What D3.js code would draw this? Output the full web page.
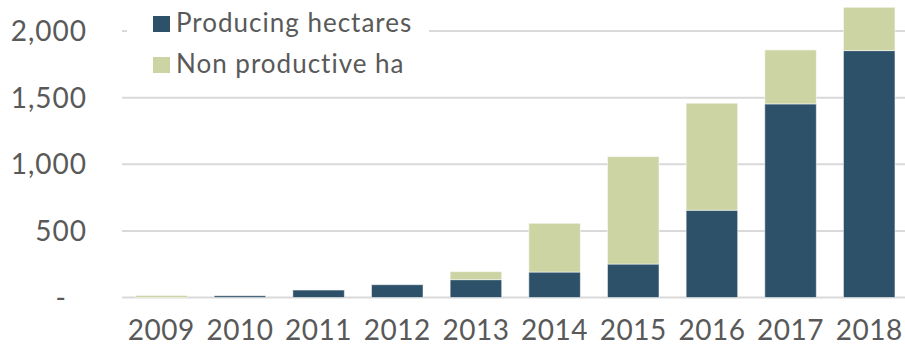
<!DOCTYPE html>
<html>
<head>
<meta charset="utf-8">
<script src="https://cdn.jsdelivr.net/npm/d3@7"></script>
<style>
  body { margin: 0; background: #fff; }
  svg { display: block; font-family: "Lato", "DejaVu Sans", sans-serif; }
</style>
</head>
<body>
<svg id="chart" width="905" height="347"></svg>
<script>
// chart values
const years = ["2009", "2010", "2011", "2012", "2013", "2014", "2015", "2016", "2017", "2018"];
const producing = [0, 13, 56, 96, 134, 191, 251, 655, 1453, 1853];
const nonProductive = [15, 0, 0, 0, 60, 366, 806, 803, 405, 325];
const yTicks = [0, 500, 1000, 1500, 2000];
const seriesNames = ["Producing hectares", "Non productive ha"];

const colors = ["#2d5169", "#cdd4a4"];
const textColor = "#595959";

const svg = d3.select("#chart");

const y = d3.scaleLinear().domain([0, 2000]).range([297.5, 31]);
const x = d3.scaleBand()
    .domain(years)
    .range([121.6, 908.9])
    .paddingInner(0.345)
    .paddingOuter(0.177);

const rows = years.map((yr, i) => ({ year: yr, producing: producing[i], nonProductive: nonProductive[i] }));
const stacked = d3.stack().keys(["producing", "nonProductive"])(rows);

// gridlines
svg.append("g")
  .selectAll("line")
  .data(yTicks)
  .join("line")
    .attr("x1", 122)
    .attr("x2", 905)
    .attr("y1", d => y(d))
    .attr("y2", d => y(d))
    .attr("stroke", "#d9d9d9")
    .attr("stroke-width", 2);

// y labels
svg.append("g")
  .selectAll("text")
  .data(yTicks)
  .join("text")
    .attr("x", d => d == 0 ? 67 : 87)
    .attr("y", d => y(d))
    .attr("dy", "0.36em")
    .attr("text-anchor", "end")
    .attr("fill", textColor)
    .attr("font-size", 28)
    .attr("letter-spacing", 1)
    .text(d => d == 0 ? "-" : d3.format(",")(d));

// bars
svg.append("g")
  .selectAll("g")
  .data(stacked)
  .join("g")
    .attr("fill", (d, i) => colors[i])
  .selectAll("rect")
  .data(d => d.filter(p => p[1] - p[0] > 0))
  .join("rect")
    .attr("x", d => x(d.data.year))
    .attr("width", x.bandwidth())
    .attr("y", d => y(d[1]))
    .attr("height", d => y(d[0]) - y(d[1]))
    .attr("stroke", "#ffffff")
    .attr("stroke-opacity", 0.5)
    .attr("stroke-width", 1);

// x labels
svg.append("g")
  .selectAll("text")
  .data(years)
  .join("text")
    .attr("x", d => x(d) + x.bandwidth() / 2)
    .attr("y", 340)
    .attr("text-anchor", "middle")
    .attr("fill", textColor)
    .attr("font-size", 28)
    .attr("letter-spacing", 0.5)
    .text(d => d);

// legend (white box over the top gridline)
const legend = svg.append("g");
legend.append("rect")
    .attr("x", 127).attr("y", 0)
    .attr("width", 302).attr("height", 84)
    .attr("fill", "#fff");

const item = legend.selectAll("g")
  .data(seriesNames)
  .join("g")
    .attr("transform", (d, i) => `translate(153, ${16 + i * 41})`);

item.append("rect")
    .attr("width", 17).attr("height", 16)
    .attr("fill", (d, i) => colors[i]);

item.append("text")
    .attr("x", 23)
    .attr("y", 16)
    .attr("fill", textColor)
    .attr("font-size", 26)
    .attr("letter-spacing", 1)
    .text(d => d);
</script>
</body>
</html>
